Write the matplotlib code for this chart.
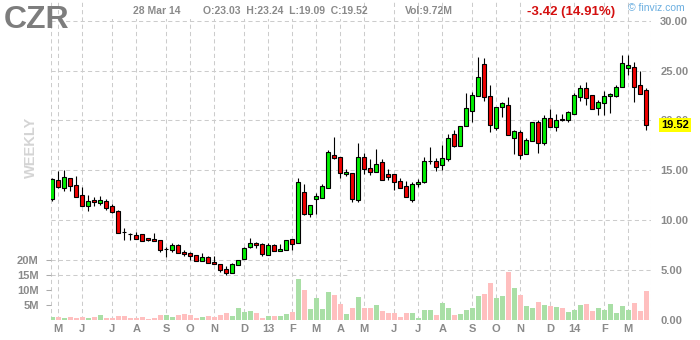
import matplotlib
matplotlib.use('Agg')
import matplotlib.pyplot as plt
import matplotlib.transforms as mtrans
from matplotlib.patches import Rectangle
import numpy as np
import pandas as pd

plt.rcParams['font.family'] = ['Liberation Sans', 'DejaVu Sans']

# ---------------- data ----------------
ticker = "CZR"
opens = [12.1, 14.0, 13.2, 14.2, 13.5, 12.5, 11.37, 12.0, 11.7, 11.9,
         11.4, 10.9, 8.82, 8.58, 8.5, 8.6, 8.2, 8.1, 8.0, 7.08,
         7.0, 7.5, 6.8, 6.7, 6.5, 5.9, 6.3, 5.8, 5.6, 5.1,
         4.7, 5.5, 6.1, 7.3, 7.7, 7.6, 6.5, 7.5, 6.9, 7.0,
         8.1, 7.7, 12.8, 10.6, 12.1, 12.2, 13.2, 16.5, 16.3, 14.6,
         14.7, 12.0, 16.3, 15.2, 14.8, 15.8, 14.6, 14.6, 13.9, 13.4,
         12.0, 13.6, 13.8, 15.88, 15.9, 15.5, 16.1, 18.6, 17.4, 19.4,
         21.0, 22.5, 25.7, 22.5, 19.2, 21.4, 21.6, 18.2, 18.8, 16.6,
         17.9, 19.8, 17.7, 20.3, 19.3, 20.2, 20.1, 20.7, 22.4, 23.3,
         22.6, 21.3, 21.8, 22.5, 22.5, 23.4, 25.3, 25.4, 23.6, 23.03]
highs = [14.27, 14.93, 15.0, 14.2, 14.43, 13.33, 12.5, 12.33, 12.4, 12.1,
         11.6, 11.0, 9.2, 8.7, 8.8, 8.6, 8.2, 8.7, 8.0, 7.3,
         7.7, 7.6, 7.0, 6.8, 6.5, 6.7, 6.4, 6.4, 5.6, 5.4,
         5.7, 6.0, 7.3, 8.2, 7.8, 7.7, 7.7, 7.6, 7.6, 8.0,
         8.1, 14.2, 13.6, 11.5, 12.7, 13.6, 17.0, 18.3, 16.3, 15.1,
         14.7, 17.7, 16.7, 16.1, 17.1, 16.1, 15.1, 14.6, 14.2, 13.9,
         13.8, 14.1, 16.3, 17.3, 16.2, 17.5, 18.6, 19.0, 19.4, 22.8,
         22.9, 26.4, 26.3, 23.6, 21.4, 21.9, 22.4, 19.0, 19.0, 18.2,
         19.8, 20.0, 20.6, 21.2, 20.7, 20.7, 21.0, 22.8, 23.6, 23.9,
         22.6, 22.1, 23.0, 22.8, 23.6, 26.6, 26.6, 25.9, 25.0, 23.24]
lows = [11.87, 13.17, 12.93, 12.93, 12.3, 11.37, 10.87, 11.4, 11.47, 11.03,
        10.67, 8.7, 8.0, 8.0, 8.1, 7.9, 7.9, 7.9, 6.8, 6.26,
        6.8, 6.7, 6.4, 6.0, 5.9, 5.9, 5.7, 5.6, 4.8, 4.5,
        4.7, 5.5, 6.1, 7.2, 7.2, 6.4, 6.5, 6.9, 6.9, 7.0,
        7.0, 7.7, 10.5, 10.3, 10.6, 12.2, 13.2, 16.1, 14.2, 14.4,
        11.8, 11.8, 14.6, 14.5, 14.8, 14.0, 14.0, 13.0, 13.2, 12.3,
        11.8, 13.3, 13.7, 15.6, 14.9, 15.0, 15.9, 17.3, 17.4, 19.4,
        19.8, 22.5, 22.0, 18.8, 19.0, 20.4, 18.5, 16.6, 16.1, 16.6,
        17.9, 16.7, 17.5, 19.3, 18.9, 19.9, 19.8, 20.7, 22.0, 21.6,
        21.2, 20.6, 20.6, 20.8, 22.4, 23.4, 24.6, 21.9, 22.7, 19.09]
closes = [14.1, 13.27, 14.3, 13.37, 12.3, 11.37, 11.9, 11.77, 12.0, 11.17,
          10.77, 8.7, 8.8, 8.56, 8.1, 7.9, 8.0, 7.9, 7.0, 7.1,
          7.5, 6.7, 6.6, 6.4, 5.9, 6.3, 5.7, 5.6, 5.0, 4.7,
          5.6, 6.0, 7.2, 7.7, 7.5, 6.6, 7.5, 6.9, 7.1, 8.0,
          7.6, 13.8, 10.6, 11.5, 12.4, 13.4, 16.8, 16.2, 14.7, 14.8,
          12.1, 16.3, 15.1, 14.8, 15.6, 14.0, 14.3, 13.8, 13.2, 12.3,
          13.6, 13.8, 15.9, 15.9, 15.3, 16.2, 18.2, 17.4, 19.4, 21.3,
          22.6, 24.4, 22.4, 19.5, 21.4, 21.8, 18.5, 18.9, 16.5, 18.0,
          19.8, 17.7, 20.3, 19.3, 20.0, 20.0, 20.9, 22.6, 23.3, 22.3,
          21.2, 21.9, 22.5, 22.7, 23.4, 25.8, 25.6, 23.4, 22.7, 19.52]
volumes_m = [1.0, 1.0, 0.8, 1.0, 0.8, 1.0, 0.8, 1.0, 1.7, 0.8,
             0.8, 1.3, 1.3, 0.8, 0.8, 1.0, 0.3, 0.8, 1.7, 1.7,
             1.0, 1.7, 2.0, 1.7, 0.8, 1.0, 1.3, 1.0, 1.7, 2.3,
             1.3, 4.0, 2.7, 3.0, 2.3, 0.7, 1.3, 1.3, 1.3, 2.0,
             2.7, 13.7, 10.0, 3.7, 7.3, 3.7, 9.3, 8.3, 5.3, 2.0,
             4.0, 7.7, 4.0, 4.0, 5.0, 3.0, 2.3, 2.3, 1.0, 2.3,
             2.3, 0.7, 3.3, 3.3, 1.7, 5.7, 4.0, 1.7, 2.0, 3.3,
             4.0, 8.0, 8.7, 12.3, 7.3, 8.0, 16.0, 10.7, 8.3, 4.7,
             4.0, 6.0, 5.0, 4.7, 4.3, 4.0, 2.7, 3.3, 5.0, 5.3,
             3.0, 4.0, 3.3, 5.3, 2.3, 4.7, 3.3, 5.7, 3.0, 9.72]
week_dates = pd.date_range('2012-04-27', '2014-03-28', freq='W-FRI').drop(pd.Timestamp('2013-03-29'))
price_ticks = [0, 5, 10, 15, 20, 25, 30]
vol_ticks = [5, 10, 15, 20]
header_date = "28 Mar 14"
last_o, last_h, last_l, last_c = 23.03, 23.24, 19.09, 19.52
last_vol = "9.72M"
change, change_pct = -3.42, 14.91

# ---------------- layout ----------------
W, H = 700, 340
fig = plt.figure(figsize=(W / 100, H / 100), dpi=100)
ax_left, ax_right, ax_top, ax_bot = 50.7, 650.7, 0.0, 320.0
ax = fig.add_axes([ax_left / W, 1 - ax_bot / H, (ax_right - ax_left) / W, (ax_bot - ax_top) / H])
axp = ax.twinx()

n = len(closes)
x = np.arange(n)
GRID = '#cccccc'
TXT = '#8a8a8a'
GREEN, RED = '#00f000', '#f00000'
VGREEN, VRED = '#a9dfa6', '#ffbfbf'

ax.set_xlim(-0.27, 99.73)
# px per $ ~ 9.95, price 0 at y=319.5
ax.set_ylim(0, 320 / 2.985)
axp.set_ylim(-0.05, 32.11)

for a in (ax, axp):
    for s in ('top', 'bottom'):
        a.spines[s].set_visible(False)
    for s in ('left', 'right'):
        a.spines[s].set_visible(False)
    a.patch.set_visible(False)

up = np.array(closes) >= np.array(opens)

# month ticks & vertical grid
months = week_dates.month
tick_idx = [i for i in range(1, len(week_dates)) if months[i] != months[i - 1]]
tick_lab = [week_dates[i].strftime('%y') if week_dates[i].month == 1 else week_dates[i].strftime('%b')[0]
            for i in tick_idx]
grid_kw = dict(color=GRID, lw=0.75, dashes=(4, 3), zorder=0)
for xi in tick_idx + list(ax.get_xlim()):
    ax.axvline(xi, **grid_kw)

# volume gridlines (left part) and price gridlines
split = 0.494
for v in (15, 20):
    ax.axhline(v, xmin=0, xmax=split, **grid_kw)
for p in price_ticks[1:]:
    if p == 5:
        axp.axhline(p, xmin=split, xmax=1, **grid_kw)
    else:
        axp.axhline(p, **grid_kw)

# volume bars
ax.bar(x, volumes_m, width=0.8, color=[VGREEN if u else VRED for u in up], zorder=1, linewidth=0)

# candles
axp.vlines(x, lows, highs, color='black', lw=0.8, zorder=3)
bottoms = np.minimum(opens, closes)
heights = np.abs(np.array(closes) - np.array(opens))
axp.bar(x, heights, bottom=bottoms, width=0.64, color=[GREEN if u else RED for u in up],
        edgecolor='black', linewidth=0.8, zorder=4)

# axes ticks
ax.set_xticks(tick_idx)
ax.set_xticklabels(tick_lab, fontsize=8, fontweight='bold', color=TXT)
ax.tick_params(axis='x', length=0, pad=3)
ax.set_yticks(vol_ticks)
ax.set_yticklabels([f"{v}M" for v in vol_ticks], fontsize=8, fontweight='bold', color=TXT)
ax.tick_params(axis='y', length=3.6, width=0.75, color='#aaaaaa', pad=5)

axp.set_yticks(price_ticks)
axp.set_yticklabels([f"{p:.2f}" for p in price_ticks], fontsize=8, fontweight='bold', color=TXT)
axp.tick_params(axis='y', length=0, pad=6.8)
axp.yaxis.set_ticks_position('right')

# last price box
trans = mtrans.blended_transform_factory(axp.transAxes, axp.transData)
axp.text(1 + 10.5 / 600, last_c, f"{last_c:.2f}", transform=trans, ha='left', va='center',
         fontsize=8, fontweight='bold', color='black', zorder=10,
         bbox=dict(boxstyle='square,pad=0.18', fc='#ffff00', ec='none'), clip_on=False)

# header white band
fig.patches.append(Rectangle((100 / W, 1 - 19 / H), 255 / W, 19 / H, transform=fig.transFigure,
                             fc='white', ec='none', zorder=2))

fig.text(4 / W, 1 - 20 / H, ticker, fontsize=23, fontweight='bold', color='#7d7d7d',
         ha='left', va='center', zorder=5)
fig.text(133 / W, 1 - 11 / H, header_date, fontsize=7.5, fontweight='bold', color=TXT,
         ha='left', va='center', zorder=5)
fig.text(203 / W, 1 - 11 / H,
         f"O:{last_o:.2f}  H:{last_h:.2f}  L:{last_l:.2f}  C:{last_c:.2f}",
         fontsize=7.5, fontweight='bold', color=TXT, ha='left', va='center', zorder=5)
fig.text(405 / W, 1 - 11 / H, f"Vol:{last_vol}", fontsize=7.5, fontweight='bold', color=TXT,
         ha='left', va='center', zorder=5)
fig.text(527 / W, 1 - 11.5 / H, f"{change:.2f} ({change_pct:.2f}%)", fontsize=9.5, fontweight='bold',
         color='#d41010', ha='left', va='center', zorder=5)
fig.text(628 / W, 1 - 8 / H, "\u00a9 finviz.com", fontsize=7.5, color='#6aaee0',
         ha='left', va='center', zorder=5)
fig.text(31 / W, 1 - 147 / H, "WEEKLY", fontsize=10.5, fontweight='bold', color='#d4d4d4',
         rotation=90, ha='center', va='center', zorder=5)

fig.savefig('out.png', dpi=100)
